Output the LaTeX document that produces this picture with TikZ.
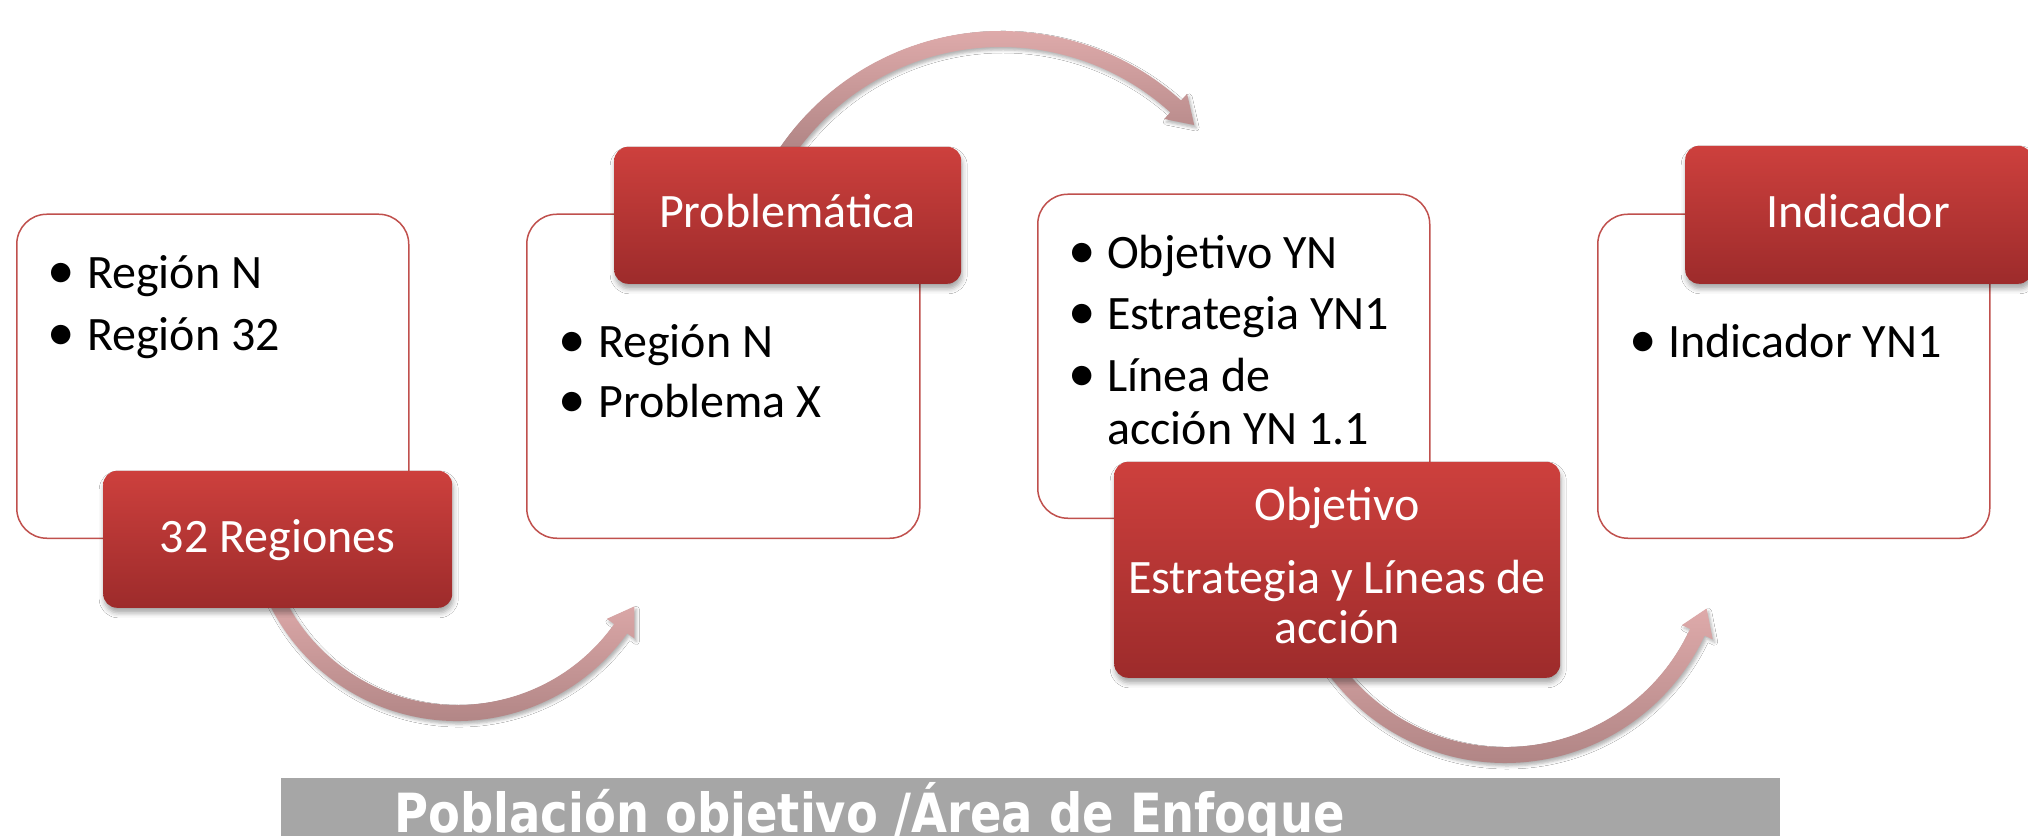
\documentclass[tikz,border=0pt]{standalone}
\usepackage{fontspec}
\setmainfont{Carlito}
\newfontfamily\barfont{DejaVu Sans}[FakeStretch=0.86]
\usetikzlibrary{shadows.blur}
\definecolor{boxline}{HTML}{C0504D}
\definecolor{redtop}{HTML}{CD403D}
\definecolor{redbot}{HTML}{9D2B2B}
\definecolor{arrtop}{HTML}{DEAAAA}
\definecolor{arrbot}{HTML}{A87E7E}
\definecolor{bargray}{HTML}{A6A6A6}
\tikzset{
  whitebox/.style={draw=boxline, line width=1.5pt, fill=white, rounded corners=30pt, inner sep=0pt, anchor=south west},
  redbox/.style={rounded corners=14pt, top color=redtop, bottom color=redbot, inner sep=0pt, anchor=south west,
    blur shadow={shadow xshift=1pt, shadow yshift=-5pt, shadow blur radius=5pt, shadow opacity=35}},
  curvearrow/.style={top color=arrtop, bottom color=arrbot,
    blur shadow={shadow xshift=2pt, shadow yshift=-3pt, shadow blur radius=3pt, shadow opacity=30}},
  bodytext/.style={inner sep=0pt, anchor=base west, font=\fontsize{48}{56}\selectfont},
  bullettext/.style={inner sep=0pt, anchor=base, font=\fontsize{55}{60}\selectfont},
  redtext/.style={inner sep=0pt, anchor=base, text=white, font=\fontsize{48}{56}\selectfont},
}
\newcommand\bendarrow[7]{%
  \begin{scope}[shift={(#1,#2)}]
    \coordinate (#7) at (0,0);
    \path[curvearrow] ({#4}:{#3+8}) arc[start angle=#4, end angle=#5, radius=#3+8]
      -- ({#5}:{#3+17}) -- ({#6}:{#3}) -- ({#5}:{#3-17}) -- ({#5}:{#3-8})
      arc[start angle=#5, end angle=#4, radius=#3-8] -- cycle;
  \end{scope}}
\begin{document}
\begin{tikzpicture}[x=1pt, y=1pt]
\useasboundingbox (0,0) rectangle (2028,836);
\fill[white] (0,0) rectangle (2028,836);

% curved arrows
\bendarrow{457}{324}{201}{-155}{-35.5}{-28}{c1}
\bendarrow{1001}{537}{260}{150}{47.8}{42}{c2}
\bendarrow{1505}{293}{212}{-145}{-24.9}{-18}{c3}

% white boxes
\node[whitebox, minimum width=392pt, minimum height=324pt] (b1) at (16,297) {};
\node[whitebox, minimum width=393pt, minimum height=324pt] (b2) at (526,297) {};
\node[whitebox, minimum width=392pt, minimum height=324pt] (b3) at (1037,317) {};
\node[whitebox, minimum width=392pt, minimum height=324pt] (b4) at (1597,297) {};

% red boxes
\node[redbox, minimum width=349pt, minimum height=137pt] (r1) at (103,228) {};
\node[redbox, minimum width=347pt, minimum height=137pt] (r2) at (614,552) {};
\node[redbox, minimum width=446pt, minimum height=216pt] (r3) at (1114,158) {};
\node[redbox, minimum width=347pt, minimum height=138pt] (r4) at (1685,552) {};

% box 1 text
\node[bullettext] (b1d1) at (61,547) {•};
\node[bodytext] (b1t1) at (87,547) {Región N};
\node[bullettext] (b1d2) at (61,485) {•};
\node[bodytext] (b1t2) at (87,485) {Región 32};

% box 2 text
\node[bullettext] (b2d1) at (572,478) {•};
\node[bodytext] (b2t1) at (598,478) {Región N};
\node[bullettext] (b2d2) at (572,418) {•};
\node[bodytext] (b2t2) at (598,418) {Problema X};

% box 3 text
\node[bullettext] (b3d1) at (1082,567) {•};
\node[bodytext] (b3t1) at (1107,567) {Objetivo YN};
\node[bullettext] (b3d2) at (1082,506) {•};
\node[bodytext] (b3t2) at (1107,506) {Estrategia YN1};
\node[bullettext] (b3d3) at (1082,444) {•};
\node[bodytext] (b3t3) at (1107,444) {Línea de};
\node[bodytext] (b3t4) at (1107,391) {acción YN 1.1};

% box 4 text
\node[bullettext] (b4d1) at (1643,478) {•};
\node[bodytext] (b4t1) at (1668,478) {Indicador YN1};

% red box texts
\node[redtext] (r1t) at (277.5,284) {32 Regiones};
\node[redtext] (r2t) at (787.5,608) {Problemática};
\node[redtext] (r3t1) at (1337,316) {Objetivo};
\node[redtext] (r3t2) at (1337,243) {Estrategia y Líneas de};
\node[redtext] (r3t3) at (1337,193) {acción};
\node[redtext] (r4t) at (1858,608) {Indicador};

% bottom bar
\node[fill=bargray, inner sep=0pt, anchor=south west, minimum width=1499pt, minimum height=58pt] (bar) at (281,0) {};
\node[inner sep=0pt, anchor=base west, text=white, font=\barfont\bfseries\fontsize{54}{60}\selectfont] (bartext) at (394,4) {Población objetivo /Área de Enfoque};
\end{tikzpicture}
\end{document}
